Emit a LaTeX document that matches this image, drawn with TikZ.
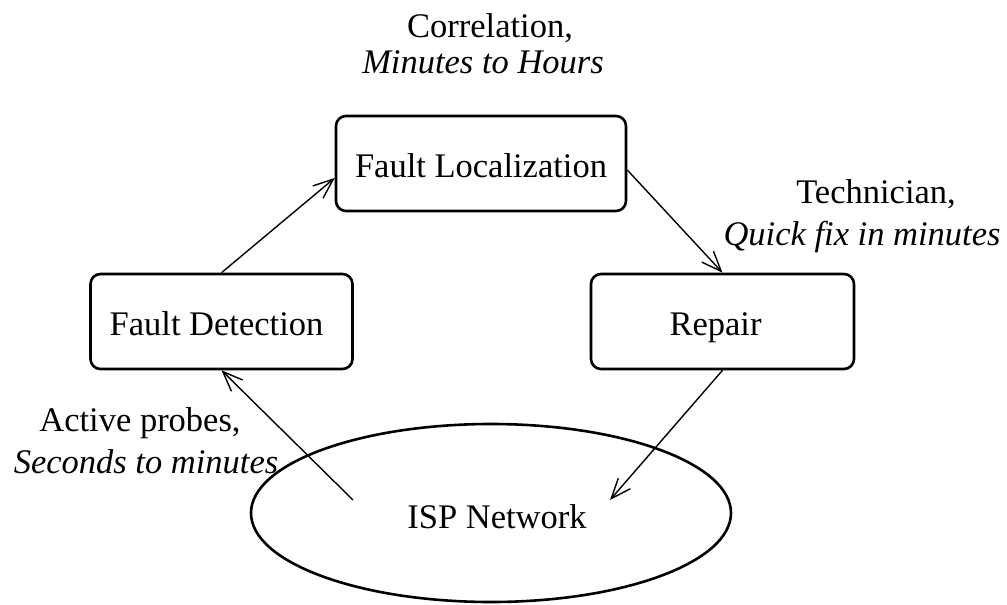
\documentclass[tikz,border=0pt]{standalone}
\usepackage{fontspec}
\setmainfont{Liberation Serif}
\usetikzlibrary{arrows.meta,shapes.geometric,calc}
\newcommand\fsz{\fontsize{34.5}{41.5}\selectfont}
\begin{document}
\begin{tikzpicture}[x=1pt,y=-1pt,
  box/.style={draw, line width=2.6pt, rounded corners=10pt, inner sep=0pt,
              minimum height=95pt, text height=27pt, text depth=0pt, font=\fsz},
  cloud/.style={draw, ellipse, line width=2.6pt, inner sep=0pt,
              minimum width=480pt, minimum height=178pt,
              text height=30pt, text depth=0pt, font=\fsz},
  lbl/.style={anchor=base, inner sep=0pt, font=\fsz},
  ilbl/.style={anchor=base, inner sep=0pt, font=\fsz\itshape},
  arr/.style={line width=1.4pt, -{Straight Barb[length=20pt,width=16pt,line width=1.4pt]}}]
\useasboundingbox (0,0) rectangle (1007,605);

\node[box, minimum width=290pt] (loc) at (481,163.5) {Fault Localization};
\node[box, minimum width=262pt] (det) at (221.5,321.5) {Fault Detection\kern10pt};
\node[box, minimum width=263pt] (rep) at (722.5,321.5) {Repair\kern14pt};
\node[cloud] (isp) at (491,513) {\kern12pt ISP Network};

\coordinate (ispL) at ($(isp.center)+(-138,-13)$);
\coordinate (ispR) at ($(isp.center)+(119,-13)$);

\node[lbl]  (corr)  at (490,37)  {Correlation,};
\node[ilbl] (corrt) at (483,73)  {Minutes to Hours};
\node[lbl]  (tech)  at (876,203) {Technician,};
\node[ilbl] (techt) at (862,245) {Quick fix in minutes};
\node[lbl]  (act)   at (140,431) {Active probes,};
\node[ilbl] (actt)  at (146,473) {Seconds to minutes};

\draw[arr] (det.north) -- ($(loc.west)+(0,14.5)$);
\draw[arr] ($(loc.east)+(0,6.5)$) -- (rep.north);
\draw[arr] (rep.south) -- (ispR);
\draw[arr] (ispL) -- (det.south);
\end{tikzpicture}
\end{document}
